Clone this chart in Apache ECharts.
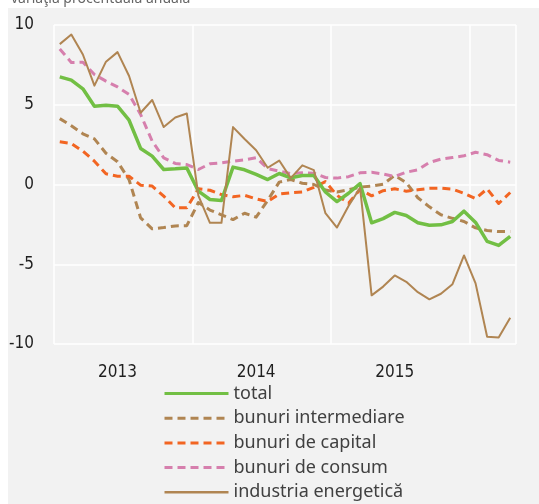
<!DOCTYPE html>
<html>
<head>
<meta charset="utf-8">
<script src="https://cdn.jsdelivr.net/npm/echarts@6/dist/echarts.min.js"></script>
<style>
  html, body { margin: 0; padding: 0; background: #fff; }
  #chart { width: 539px; height: 504px; }
</style>
</head>
<body>
<div id="chart"></div>
<script>
// monthly, Jan 2013 .. Apr 2016
var months = [];
for (var y = 2013; y <= 2016; y++) {
    for (var m = 1; m <= 12; m++) {
        if (y === 2016 && m > 4) break;
        months.push(y + '-' + (m < 10 ? '0' + m : m));
    }
}

var total = [6.75, 6.54, 6.0, 4.91, 4.97, 4.91, 4.03, 2.26, 1.78, 0.94, 0.98, 1.04,
    -0.42, -0.94, -1.0, 1.09, 0.92, 0.63, 0.31, 0.69, 0.42, 0.56, 0.56, -0.47,
    -1.07, -0.55, 0.05, -2.4, -2.14, -1.75, -1.94, -2.4, -2.55, -2.53, -2.32, -1.67,
    -2.38, -3.57, -3.82, -3.25];
var intermediare = [4.13, 3.68, 3.18, 2.86, 1.96, 1.43, 0.3, -2.09, -2.78, -2.7, -2.6, -2.58,
    -1.13, -1.6, -1.9, -2.2, -1.8, -2.05, -1.0, 0.15, 0.31, 0.08, 0.0, -0.35,
    -0.47, -0.33, -0.16, -0.1, 0.02, 0.57, 0.12, -0.83, -1.4, -1.9, -2.12, -2.32,
    -2.72, -2.88, -2.95, -2.95];
var capital = [2.68, 2.57, 2.09, 1.46, 0.67, 0.52, 0.52, -0.04, -0.1, -0.73, -1.46, -1.46,
    -0.27, -0.36, -0.63, -0.77, -0.68, -0.9, -1.07, -0.6, -0.52, -0.47, -0.18, 0.18,
    -0.68, -1.17, -0.31, -0.71, -0.39, -0.27, -0.42, -0.33, -0.24, -0.23, -0.29, -0.55,
    -0.89, -0.27, -1.19, -0.5];
var consum = [8.5, 7.65, 7.67, 6.9, 6.48, 6.12, 5.64, 4.39, 2.72, 1.67, 1.32, 1.25,
    0.94, 1.3, 1.36, 1.46, 1.55, 1.68, 1.0, 0.84, 0.68, 0.73, 0.71, 0.44,
    0.4, 0.49, 0.73, 0.77, 0.66, 0.5, 0.77, 0.92, 1.38, 1.59, 1.69, 1.8,
    2.02, 1.87, 1.51, 1.4];
var energie = [8.8, 9.4, 8.15, 6.2, 7.7, 8.3, 6.8, 4.5, 5.3, 3.6, 4.2, 4.45,
    -0.7, -2.4, -2.4, 3.6, 2.85, 2.15, 1.05, 1.5, 0.4, 1.2, 0.9, -1.8,
    -2.7, -1.35, -0.2, -6.95, -6.4, -5.7, -6.1, -6.75, -7.2, -6.85, -6.25, -4.45,
    -6.2, -9.55, -9.6, -8.35];

var yTicks = [-10, -5, 0, 5, 10];

var chart = echarts.init(document.getElementById('chart'), null, { renderer: 'canvas' });

function line(name, data, color, width, dash) {
    return {
        name: name,
        type: 'line',
        data: data,
        symbol: 'none',
        smooth: false,
        z: dash ? 2 : 3,
        lineStyle: { color: color, width: width, type: dash || 'solid', cap: 'butt', join: 'round' },
        itemStyle: { color: color }
    };
}

var series = [
    line('total', total, '#72bf44', 3.5),
    line('bunuri intermediare', intermediare, '#b08552', 3, [8, 5]),
    line('bunuri de capital', capital, '#f26522', 3, [8, 5]),
    line('bunuri de consum', consum, '#d67fad', 3, [8, 5]),
    line('industria energetică', energie, '#b08552', 2)
];

var axisFont = 'DejaVu Sans Condensed, DejaVu Sans, sans-serif';

chart.setOption({
    animation: false,
    backgroundColor: '#ffffff',
    graphic: [{
        type: 'rect',
        left: 8, top: 8,
        shape: { width: 531, height: 496 },
        style: { fill: '#f2f2f2' },
        z: -10, silent: true
    }],
    title: {
        text: 'variaţia procentuală anuală',
        left: 6, top: -13,
        textStyle: { fontFamily: 'Noto Sans', fontSize: 14, fontWeight: 'normal', color: '#666666' }
    },
    grid: { left: 54, right: 23, top: 25, bottom: 160, containLabel: false },
    legend: {
        orient: 'vertical',
        left: 163, top: 384,
        padding: 0,
        itemWidth: 64, itemHeight: 14, itemGap: 5.7,
        itemStyle: { opacity: 0 },
        textStyle: { fontFamily: 'Noto Sans', fontSize: 18, color: '#404040', lineHeight: 19 },
        data: series.map(function (s) {
            return {
                name: s.name,
                lineStyle: {
                    width: s.lineStyle.width === 2 ? 2.5 : 3,
                    type: s.lineStyle.type,
                    color: s.lineStyle.color
                }
            };
        })
    },
    xAxis: {
        type: 'category',
        data: months,
        boundaryGap: true,
        axisLine: { show: false },
        axisTick: { show: false },
        axisLabel: {
            interval: function (i) { return i % 12 === 5; },
            formatter: function (v) { return v.slice(0, 4); },
            color: '#1f1f1f', fontSize: 17, margin: 20,
            fontFamily: axisFont
        },
        splitLine: {
            show: true,
            interval: function (i) { return i % 12 === 0; },
            lineStyle: { color: '#ffffff', width: 1.5 }
        }
    },
    yAxis: {
        type: 'value',
        min: yTicks[0], max: yTicks[yTicks.length - 1], interval: 5,
        axisLine: { show: false },
        axisTick: { show: false },
        axisLabel: { color: '#1f1f1f', fontSize: 17, margin: 20, fontFamily: axisFont },
        splitLine: { lineStyle: { color: '#ffffff', width: 1.5 } }
    },
    series: series
});
</script>
</body>
</html>
